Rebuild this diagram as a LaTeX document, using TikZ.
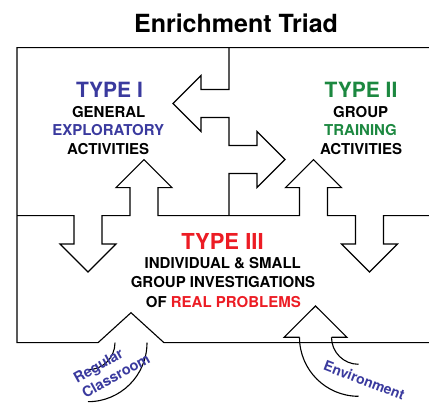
\documentclass[tikz,border=0pt]{standalone}
\usepackage{fontspec}
\setmainfont{TeX Gyre Heros}
\definecolor{tblue}{RGB}{58,58,158}
\definecolor{tgreen}{RGB}{28,136,64}
\definecolor{tred}{RGB}{236,28,36}
\begin{document}
\begin{tikzpicture}[x=1pt,y=1pt,line width=1.1pt,line join=miter,
  lbl/.style={font=\fontsize{15}{15}\selectfont\bfseries,anchor=base,inner sep=0pt},
  hd/.style={font=\fontsize{21}{21}\selectfont\bfseries,anchor=base,inner sep=0pt},
  blab/.style={font=\fontsize{14.5}{14.5}\selectfont\bfseries,text=tblue,anchor=base,inner sep=0pt}]
\useasboundingbox (0,0) rectangle (429,406);
% outer frame with left curved-arrow head
\coordinate (tr) at (440,358.3);
\coordinate (tl) at (17,358.3);
\coordinate (bl) at (17,63.3);
\coordinate (br) at (440,63.3);
\draw (tr) -- (tl) -- (bl) -- (98,63.3) -- (131,93.3) -- (164,63.3) -- (br);
% middle horizontal double arrow
\draw (229,358.3) -- (229,316.5) -- (201,316.5) -- (201,330.5) -- (173,302.5) -- (201,274.5)
  -- (201,288.5) -- (229,288.5) -- (229,260.5) -- (257,260.5) -- (257,274.5) -- (285,246.5)
  -- (257,218.5) -- (257,232.5) -- (229,232.5) -- (229,190.3);
% horizontal boundary with vertical double arrows
\draw (17,190.3) -- (74,190.3) -- (74,162) -- (60,162) -- (88,134) -- (116,162) -- (102,162)
  -- (102,190.3) -- (130,190.3) -- (130,218.3) -- (116,218.3) -- (144,246.3) -- (172,218.3)
  -- (158,218.3) -- (158,190.3) -- (299.5,190.3) -- (299.5,218.3) -- (285.5,218.3)
  -- (313.5,246.3) -- (341.5,218.3) -- (327.5,218.3) -- (327.5,190.3) -- (355.5,190.3)
  -- (355.5,162) -- (341.5,162) -- (369.5,134) -- (397.5,162) -- (383.5,162) -- (383.5,190.3)
  -- (440,190.3);
% left curved shaft (Regular Classroom)
\draw (115,63.3) .. controls (115,48.4) and (102.9,36.3) .. (88,36.3);
\draw (147,63.3) .. controls (147,30.7) and (120.6,4.3) .. (88,4.3);
% right curved arrow (Environment)
\draw (299.5,68.7) -- (284,68.7) -- (315.5,100) -- (347,68.7) -- (331.5,68.7);
\draw (331.5,68.7) .. controls (331.5,53.8) and (343.6,41.7) .. (358.5,41.7);
\draw (299.5,68.7) .. controls (299.5,36.1) and (325.9,9.7) .. (358.5,9.7);
% title
\node[font=\fontsize{25}{25}\selectfont\bfseries,anchor=base,inner sep=0pt] (title) at (236,373.7) {Enrichment Triad};
% Type I
\node[hd,text=tblue] (t1) at (109.5,308.7) {TYPE I};
\node[lbl] (t1a) at (108.7,288.3) {GENERAL};
\node[lbl,text=tblue] (t1b) at (108.3,270) {EXPLORATORY};
\node[lbl] (t1c) at (108.2,251) {ACTIVITIES};
% Type II
\node[hd,text=tgreen] (t2) at (361,308.7) {TYPE II};
\node[lbl] (t2a) at (360.7,288.3) {GROUP};
\node[lbl,text=tgreen] (t2b) at (360.5,270) {TRAINING};
\node[lbl] (t2c) at (361,251) {ACTIVITIES};
% Type III
\node[hd,text=tred,font=\fontsize{22}{22}\selectfont\bfseries] (t3) at (222.5,156) {TYPE III};
\node[lbl] (t3a) at (222.8,137) {INDIVIDUAL \& SMALL};
\node[lbl] (t3b) at (223,118) {GROUP INVESTIGATIONS};
\node[lbl] (t3c) at (223.3,98.7) {OF \textcolor{tred}{REAL PROBLEMS}};
% curved arrow labels
\node[blab,rotate=29] (reg) at (100.8,36) {Regular};
\node[blab,rotate=29] (cls) at (118.3,26) {Classroom};
\node[blab,rotate=-21,font=\fontsize{14}{14}\selectfont\bfseries] (env) at (362.5,21) {Environment};
\end{tikzpicture}
\end{document}
